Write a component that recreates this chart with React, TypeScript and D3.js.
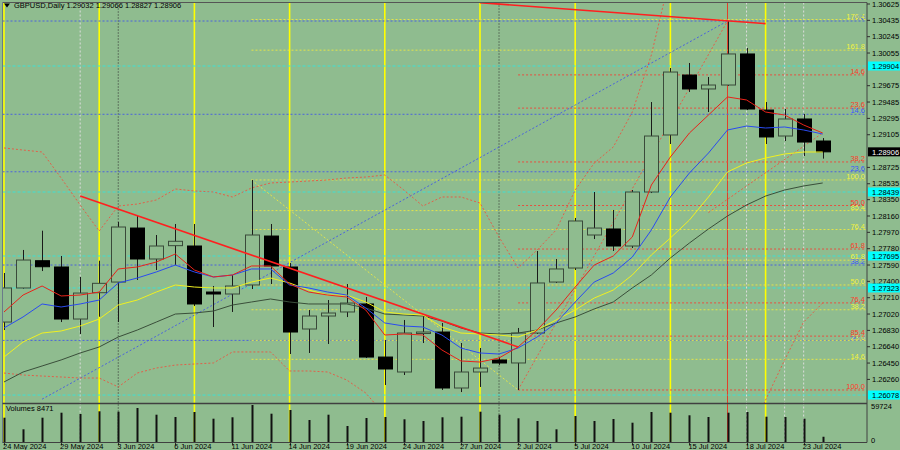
import React from 'react';
import * as d3 from 'd3';

const dates = ["24 May 2024","27 May 2024","28 May 2024","29 May 2024","30 May 2024","31 May 2024","3 Jun 2024","4 Jun 2024","5 Jun 2024","6 Jun 2024","7 Jun 2024","10 Jun 2024","11 Jun 2024","12 Jun 2024","13 Jun 2024","14 Jun 2024","17 Jun 2024","18 Jun 2024","19 Jun 2024","20 Jun 2024","21 Jun 2024","24 Jun 2024","25 Jun 2024","26 Jun 2024","27 Jun 2024","28 Jun 2024","1 Jul 2024","2 Jul 2024","3 Jul 2024","4 Jul 2024","5 Jul 2024","8 Jul 2024","9 Jul 2024","10 Jul 2024","11 Jul 2024","12 Jul 2024","15 Jul 2024","16 Jul 2024","17 Jul 2024","18 Jul 2024","19 Jul 2024","22 Jul 2024","23 Jul 2024","24 Jul 2024"];

const opens = [1.26927,1.27323,1.27640,1.27567,1.26962,1.27268,1.27392,1.28020,1.27660,1.27815,1.27811,1.27276,1.27253,1.27358,1.27927,1.27567,1.26846,1.26997,1.27044,1.27137,1.26520,1.26346,1.26799,1.26811,1.26160,1.26346,1.26486,1.26451,1.26799,1.27392,1.27555,1.27939,1.28009,1.27811,1.28439,1.29102,1.29799,1.29637,1.29683,1.30044,1.29392,1.29090,1.29288,1.29032];
const highs = [1.27497,1.27765,1.27989,1.27695,1.27451,1.27640,1.28090,1.28160,1.27939,1.28067,1.28067,1.27346,1.27474,1.28579,1.28067,1.27613,1.27067,1.27183,1.27369,1.27218,1.26718,1.26951,1.26997,1.26916,1.26683,1.26625,1.26520,1.26858,1.27753,1.27660,1.28137,1.28439,1.28230,1.28462,1.29485,1.29881,1.29939,1.29776,1.30427,1.30113,1.29485,1.29404,1.29346,1.29066];
const lows = [1.26834,1.27315,1.27520,1.26927,1.26788,1.26989,1.26927,1.27416,1.27532,1.27590,1.27113,1.26869,1.27044,1.27311,1.27369,1.26555,1.26567,1.26672,1.26985,1.26509,1.26195,1.26311,1.26683,1.26137,1.26113,1.26172,1.26428,1.26137,1.26788,1.27381,1.27532,1.27892,1.27753,1.27788,1.28427,1.28997,1.29602,1.29369,1.29672,1.29392,1.28997,1.29032,1.28858,1.28827];
const closes = [1.27323,1.27648,1.27570,1.26962,1.27264,1.27377,1.28032,1.27660,1.27811,1.27866,1.27137,1.27253,1.27346,1.27939,1.27579,1.26811,1.26997,1.27032,1.27148,1.26520,1.26381,1.26799,1.26811,1.26160,1.26346,1.26392,1.26451,1.26799,1.27381,1.27544,1.28102,1.28020,1.27811,1.28439,1.29090,1.29834,1.29637,1.29683,1.30044,1.29404,1.29079,1.29288,1.29020,1.28906];
const volumes = [39225,20500,39225,47296,45198,49556,48910,54883,44068,40355,48426,37611,39871,59724,45682,51654,35512,44068,25827,38741,40355,36642,33898,39871,40839,48910,44068,38257,33898,20500,41969,33898,37127,31154,48426,47296,43099,40355,47296,48426,40839,40355,37611,8471];

const maRed = [1.27044,1.27241,1.27346,1.27230,1.27241,1.27276,1.27544,1.27567,1.27625,1.27718,1.27532,1.27451,1.27474,1.27579,1.27579,1.27369,1.27276,1.27241,1.27218,1.27067,1.26776,1.26788,1.26776,1.26602,1.26474,1.26462,1.26509,1.26637,1.26834,1.27067,1.27334,1.27590,1.27695,1.27916,1.28520,1.28846,1.29125,1.29334,1.29544,1.29509,1.29369,1.29334,1.29218,1.29125];
const maBlue = [1.26858,1.26986,1.27137,1.27102,1.27137,1.27183,1.27381,1.27439,1.27509,1.27590,1.27509,1.27451,1.27474,1.27544,1.27544,1.27358,1.27323,1.27276,1.27241,1.27090,1.26916,1.26881,1.26869,1.26776,1.26625,1.26567,1.26555,1.26625,1.26753,1.26916,1.27160,1.27392,1.27497,1.27683,1.27997,1.28381,1.28660,1.28892,1.29160,1.29206,1.29183,1.29195,1.29160,1.29113];
const maYellow = [1.26520,1.26695,1.26799,1.26823,1.26881,1.26962,1.27125,1.27183,1.27276,1.27358,1.27334,1.27323,1.27323,1.27392,1.27439,1.27381,1.27299,1.27241,1.27241,1.27160,1.27044,1.27020,1.27009,1.26869,1.26799,1.26788,1.26776,1.26753,1.26834,1.26951,1.27067,1.27206,1.27299,1.27474,1.27706,1.27904,1.28113,1.28381,1.28672,1.28776,1.28834,1.28881,1.28904,1.28904];
const maDark = [1.26230,1.26346,1.26416,1.26486,1.26567,1.26637,1.26753,1.26834,1.26927,1.27020,1.27032,1.27055,1.27125,1.27160,1.27195,1.27160,1.27137,1.27137,1.27137,1.27090,1.27020,1.27009,1.26997,1.26939,1.26858,1.26799,1.26788,1.26799,1.26834,1.26916,1.26986,1.27079,1.27160,1.27323,1.27474,1.27672,1.27846,1.28009,1.28160,1.28288,1.28392,1.28462,1.28509,1.28544];
const bandUpper = [1.28951,1.28927,1.28904,1.28602,1.28288,1.27985,1.28276,1.28299,1.28346,1.28474,1.28451,1.28439,1.28381,1.28486,1.28544,1.28555,1.28567,1.28579,1.28602,1.28613,1.28637,1.28462,1.28276,1.28381,1.28381,1.28311,1.27916,1.27555,1.27765,1.27997,1.28462,1.28776,1.28962,1.29369,1.30032,1.30962,null,null,null,null,null,null,null,null];
const bandLower = [1.26334,1.26311,1.26299,1.26288,1.26276,1.26276,1.26172,1.26334,1.26392,1.26427,1.26439,1.26451,1.26579,1.26579,1.26579,1.26358,1.26358,1.26346,1.26253,1.26102,1.25846,null,null,null,null,null,null,null,null,null,null,null,null,null,null,null,null,null,null,1.25555,1.26020,1.26486,1.26927,1.27148];

const priceTicks = [1.30625,1.30435,1.30245,1.30055,1.29675,1.29485,1.29295,1.29105,1.28725,1.28535,1.28350,1.28160,1.27970,1.27780,1.27590,1.27400,1.27210,1.27020,1.26830,1.26640,1.26450,1.26260];
const dateTickIdx = [0,3,6,9,12,15,18,21,24,27,30,33,36,39,42];
const cyanLevels = [1.29904,1.28439,1.27695,1.27323,1.26078];

const fridayIdx = [0,5,10,15,20,25,30,35,40];
const monthIdx = [6,26];
const greyIdx = [4,39,41,42];
const redIdx = [38];

// trend lines: [barIndex, price]
const trendSolid = [[[4,1.28392],[27,1.26637]],[[25,1.30641],[40,1.30397]]];
const trendRedDot = [[[27,1.26137],[38,1.30427]],[[37,1.28200],[43,1.29125]]];
const trendBlueDot = [[[2,1.26030],[38,1.30427]]];
const trendYellowDot = [[[13,1.28579],[27,1.26137]]];

// fibonacci anchors and levels
const fibRedLevels = [14.6,23.6,38.2,50.0,61.8,76.4,85.4,100.0];
const fibRedAnchor = [1.30427, 1.26137];
const fibBlueLevels = [0.0,14.6,23.6,38.2,50.0];
const fibBlueAnchor = [1.30427, 1.23000];
const fibYellowLevels = [14.6,23.6,38.2,50.0,61.8,76.4,85.4,100.0,161.8,176.4];
const fibYellowAnchor = [1.26137, 1.28579];

const header = "GBPUSD,Daily  1.29032 1.29066 1.28827 1.28906";
const lastPrice = 1.28906;

export default function App() {
  const W = 900, H = 450;
  const axisX = 867;
  const top = 2.5, sep = 403.5, bottom = 442.5;
  const x = d3.scaleLinear().domain([0, 43]).range([4, 822.7]);
  const y = d3.scaleLinear().domain([1.26260, 1.30625]).range([379.4, 4]);
  const yv = d3.scaleLinear().domain([0, 59724]).range([442, 405]);
  const font = "'Liberation Sans', Arial, sans-serif";
  const fs = 7.5;

  const mkLine = (arr: (number | null)[]) =>
    d3.line<number | null>().defined(v => v != null).x((_, i) => x(i)).y(v => y(v as number))(arr) || '';

  const seg = (s: number[][]) => d3.line<number[]>().x(d => x(d[0])).y(d => y(d[1]))(s) || '';

  const fibLines = (levels: number[], anchor: number[], startX: number, lineColor: string, textColor: string, key: string) =>
    levels.map((lv, k) => {
      const p = anchor[0] + (anchor[1] - anchor[0]) * lv / 100;
      const yy = y(p);
      return (
        <g key={key + k}>
          <line x1={startX} x2={axisX - 1} y1={yy} y2={yy} stroke={lineColor} strokeWidth={1} strokeDasharray="2,2" />
          <text x={axisX - 2} y={yy - 0.8} fontSize={fs} fontFamily={font} fill={textColor} textAnchor="end">{lv.toFixed(1)}</text>
        </g>
      );
    });

  const bw = 14;

  return (
    <svg width={W} height={H} style={{ position: 'fixed', left: 0, top: 0, background: '#8fbc8f' }}>
      <defs>
        <clipPath id="mainClip"><rect x={2.5} y={top} width={axisX - 2.5} height={sep - top} /></clipPath>
        <clipPath id="allClip"><rect x={2.5} y={top} width={axisX - 2.5} height={bottom - top} /></clipPath>
      </defs>
      <rect x={0} y={0} width={W} height={H} fill="#8fbc8f" />

      {/* vertical separators */}
      <g clipPath="url(#allClip)">
        {fridayIdx.map(i => <line key={'f' + i} x1={x(i)} x2={x(i)} y1={top} y2={bottom} stroke="#ffff00" strokeWidth={1.6} />)}
        {monthIdx.map(i => <line key={'m' + i} x1={x(i)} x2={x(i)} y1={top} y2={bottom} stroke="#303030" strokeWidth={1} strokeDasharray="1,2" />)}
        {greyIdx.map(i => <line key={'g' + i} x1={x(i)} x2={x(i)} y1={top} y2={bottom} stroke="#dcdcdc" strokeWidth={1} strokeDasharray="2,2" />)}
        {redIdx.map(i => <line key={'r' + i} x1={x(i)} x2={x(i)} y1={top} y2={bottom} stroke="#e0402a" strokeWidth={1} />)}
      </g>

      <g clipPath="url(#mainClip)">
        {/* cyan levels */}
        {cyanLevels.map((p, k) => <line key={'c' + k} x1={2.5} x2={axisX} y1={y(p)} y2={y(p)} stroke="#3ee0d4" strokeWidth={1} strokeDasharray="3,2" />)}
        {/* fib levels */}
        {fibLines(fibBlueLevels, fibBlueAnchor, 2.5, '#4b63dc', '#3b55ff', 'fb')}
        {fibLines(fibYellowLevels, fibYellowAnchor, x(13), '#e4e44a', '#f2f23c', 'fy')}
        {fibLines(fibRedLevels, fibRedAnchor, x(27), '#e65040', '#ff3a2a', 'fr')}

        {/* diagonal dotted lines */}
        {trendBlueDot.map((s, k) => <path key={'bd' + k} d={seg(s)} stroke="#4b63dc" strokeWidth={1} strokeDasharray="2,2" fill="none" />)}
        {trendYellowDot.map((s, k) => <path key={'yd' + k} d={seg(s)} stroke="#e4e44a" strokeWidth={1} strokeDasharray="2,2" fill="none" />)}
        {trendRedDot.map((s, k) => <path key={'rd' + k} d={seg(s)} stroke="#e0604a" strokeWidth={1} strokeDasharray="2,2" fill="none" />)}

        {/* bands */}
        <path d={mkLine(bandUpper)} stroke="#e0604a" strokeWidth={1} strokeDasharray="2,2" fill="none" />
        <path d={mkLine(bandLower)} stroke="#e0604a" strokeWidth={1} strokeDasharray="2,2" fill="none" />

        {/* candles */}
        {opens.map((o, i) => {
          const c = closes[i];
          const bull = c >= o;
          const yt = y(Math.max(o, c)), yb = y(Math.min(o, c));
          const cx = Math.round(x(i)) + 0.5;
          return (
            <g key={'k' + i}>
              <line x1={cx} x2={cx} y1={y(highs[i])} y2={y(lows[i])} stroke="#1a1a1a" strokeWidth={1} />
              <rect x={cx - bw / 2} y={yt} width={bw} height={Math.max(1.5, yb - yt)}
                fill={bull ? '#8fbc8f' : '#000000'} stroke={bull ? '#3a4a3a' : '#000000'} strokeWidth={1} />
            </g>
          );
        })}

        {/* moving averages */}
        <path d={mkLine(maDark)} stroke="#3a4e3a" strokeWidth={1} fill="none" />
        <path d={mkLine(maYellow)} stroke="#f0f020" strokeWidth={1} fill="none" />
        <path d={mkLine(maBlue)} stroke="#2a4bf0" strokeWidth={1} fill="none" />
        <path d={mkLine(maRed)} stroke="#e8231a" strokeWidth={1} fill="none" />

        {/* solid trend lines */}
        {trendSolid.map((s, k) => <path key={'ts' + k} d={seg(s)} stroke="#ff1f1f" strokeWidth={1.6} fill="none" />)}
      </g>

      {/* volumes */}
      {volumes.map((v, i) => {
        const cx = Math.round(x(i)) + 0.5;
        return <line key={'v' + i} x1={cx} x2={cx} y1={yv(0)} y2={yv(v)} stroke="#111" strokeWidth={2} />;
      })}

      {/* frame */}
      <line x1={2.5} x2={axisX} y1={top} y2={top} stroke="#555" strokeWidth={1} />
      <line x1={2.5} x2={2.5} y1={top} y2={bottom} stroke="#6a7a8a" strokeWidth={1} />
      <line x1={2.5} x2={axisX} y1={sep} y2={sep} stroke="#404040" strokeWidth={1.5} />
      <line x1={2.5} x2={axisX} y1={bottom} y2={bottom} stroke="#404040" strokeWidth={1} />
      <line x1={axisX} x2={axisX} y1={top} y2={bottom} stroke="#404040" strokeWidth={1} />

      {/* price axis */}
      {priceTicks.map((p, k) => (
        <g key={'pt' + k}>
          <line x1={axisX} x2={axisX + 3} y1={y(p)} y2={y(p)} stroke="#303030" />
          <text x={872} y={y(p) + 2.7} fontSize={fs} fontFamily={font} fill="#000">{p.toFixed(5)}</text>
        </g>
      ))}
      {cyanLevels.map((p, k) => (
        <g key={'cl' + k}>
          <rect x={axisX + 1} y={y(p) - 4.5} width={W - axisX - 1} height={9} fill="#00ffff" />
          <text x={872} y={y(p) + 2.7} fontSize={fs} fontFamily={font} fill="#000">{p.toFixed(5)}</text>
        </g>
      ))}
      <rect x={axisX + 1} y={y(lastPrice) - 4.5} width={W - axisX - 1} height={9} fill="#000" />
      <text x={872} y={y(lastPrice) + 2.7} fontSize={fs} fontFamily={font} fill="#fff">{lastPrice.toFixed(5)}</text>

      {/* volume axis */}
      <text x={871} y={408.5} fontSize={fs} fontFamily={font} fill="#000">59724</text>
      <text x={871} y={443} fontSize={fs} fontFamily={font} fill="#000">0</text>
      <text x={6} y={411} fontSize={fs} fontFamily={font} fill="#000">{'Volumes ' + volumes[volumes.length - 1]}</text>

      {/* date axis */}
      {dateTickIdx.map(i => (
        <g key={'dt' + i}>
          <line x1={Math.round(x(i)) + 0.5} x2={Math.round(x(i)) + 0.5} y1={bottom} y2={bottom + 3} stroke="#303030" />
          <text x={x(i) - 1} y={449} fontSize={fs} fontFamily={font} fill="#000">{dates[i]}</text>
        </g>
      ))}

      {/* header */}
      <path d="M4,3.5 L10,3.5 L7,7.5 Z" fill="#000" />
      <text x={14} y={8} fontSize={fs} fontFamily={font} fill="#000">{header}</text>
    </svg>
  );
}
